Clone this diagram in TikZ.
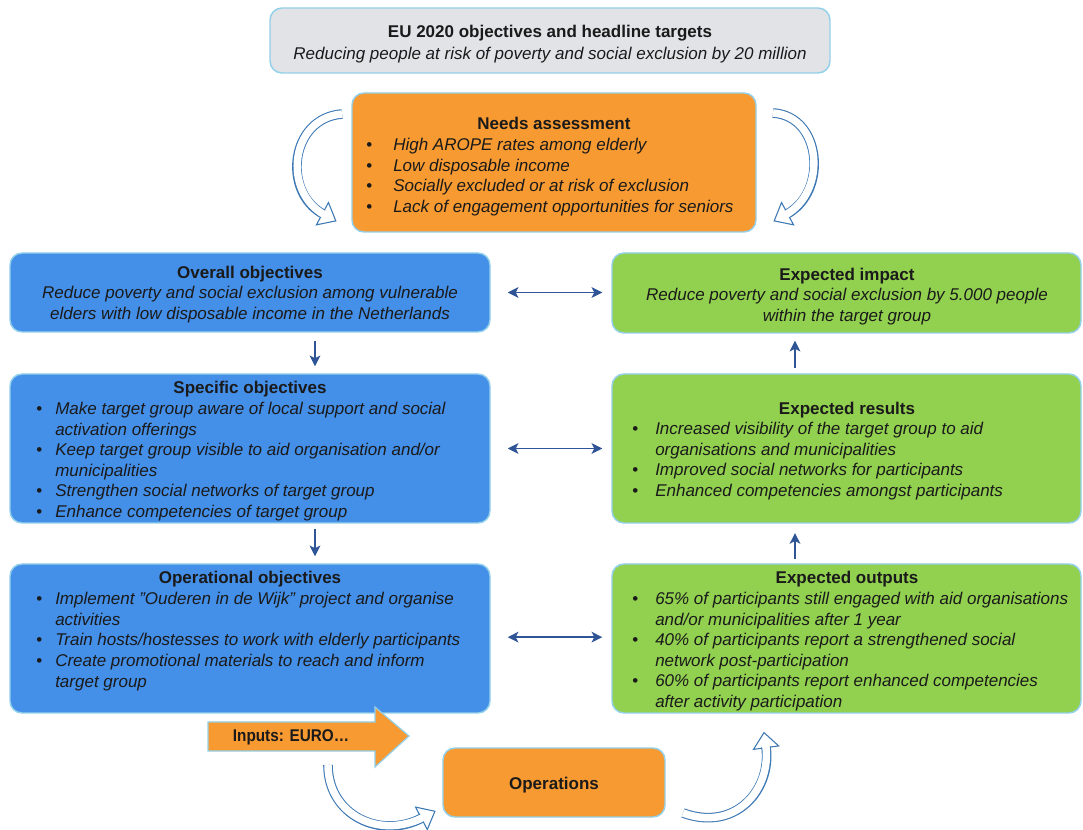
\documentclass[tikz,border=0pt]{standalone}
\usepackage{fontspec}
\setmainfont{Liberation Sans}
\usetikzlibrary{arrows.meta,decorations.markings,fit}

\definecolor{boxblue}{HTML}{448FE8}
\definecolor{boxgreen}{HTML}{92D050}
\definecolor{boxorange}{HTML}{F79A32}
\definecolor{boxgray}{HTML}{E1E3E6}
\definecolor{rimblue}{HTML}{93D0EA}
\definecolor{linknavy}{HTML}{2F5597}
\definecolor{curveblue}{HTML}{3C78B4}
\definecolor{ink}{HTML}{1A1A1A}

\newcommand{\bodyfont}{\fontsize{12.75pt}{15.4pt}\selectfont}
\newlength\itemhang
\newcommand{\bl}[1]{\makebox[\itemhang][l]{\textbullet}\textit{#1}}
\newcommand{\cl}[1]{\hspace*{\itemhang}\textit{#1}}

% hollow curved arrow: outlined shaft plus open head at the end of the path
\newcommand{\hollowcurve}[1]{%
  \path[decorate, decoration={markings, mark=at position 0.999 with
    {\draw[curveblue, line width=0.8pt, fill=white, line join=miter]
      (-0.4pt,-9.5pt) -- (11pt,0pt) -- (-0.4pt,9.5pt) -- cycle;}}] #1;
  \draw[curveblue, line width=7.2pt] #1;
  \draw[white, line width=5.6pt, shorten >=-1.5pt] #1;
}

\tikzset{
  box/.style={rounded corners=9pt, draw=rimblue, line width=1.1pt, inner sep=0pt},
  bluebox/.style={box, fill=boxblue},
  greenbox/.style={box, fill=boxgreen},
  orangebox/.style={box, fill=boxorange},
  graybox/.style={box, fill=boxgray},
  title/.style={anchor=base, font=\bodyfont\bfseries, text=ink, inner sep=0pt},
  % multi-line texts: the base anchor sits on the last line
  plain/.style={anchor=base, font=\bodyfont\itshape, text=ink, align=center, inner sep=0pt},
  blist/.style={anchor=base west, font=\bodyfont, text=ink, align=left, inner sep=0pt,
    /utils/exec={\global\itemhang=14.25pt}},
  nlist/.style={blist, /utils/exec={\global\itemhang=20.25pt}},
  glist/.style={blist, /utils/exec={\global\itemhang=17.25pt}},
  link/.style={linknavy, line width=1.2pt},
  both/.style={link, {Stealth[length=8pt,width=8pt,inset=2pt]}-{Stealth[length=8pt,width=8pt,inset=2pt]}},
  ahead/.style={link, -{Stealth[length=8pt,width=8pt,inset=2pt]}},
}

\begin{document}
\begin{tikzpicture}[x=0.75pt, y=-0.75pt]
\useasboundingbox (0,0) rectangle (1083,830);

% --- top: EU 2020 targets
\node[graybox, fit={(270,8) (830,73)}] (eu) {};
\node[title] (euT) at (550,38) {EU 2020 objectives and headline targets};
\node[plain] (euS) at (550,60) {Reducing people at risk of poverty and social exclusion by 20 million};

% --- needs assessment
\node[orangebox, fit={(352,93) (756,232)}] (needs) {};
\node[title] (needsT) at (554,130) {Needs assessment};
\node[nlist] (needsL) at (366,212.5) {\bl{High AROPE rates among elderly}\\
  \bl{Low disposable income}\\
  \bl{Socially excluded or at risk of exclusion}\\
  \bl{Lack of engagement opportunities for seniors}};

% --- left column: objectives
\node[bluebox, fit={(10,253) (490,332)}] (overall) {};
\node[title] (overallT) at (250,279) {Overall objectives};
\node[plain] (overallS) at (250,319.5) {Reduce poverty and social exclusion among vulnerable\\
  elders with low disposable income in the Netherlands};

\node[bluebox, fit={(10,374) (490,523)}] (specific) {};
\node[title] (specificT) at (250,394) {Specific objectives};
\node[blist] (specificL) at (36,517.5) {\bl{Make target group aware of local support and social}\\
  \cl{activation offerings}\\
  \bl{Keep target group visible to aid organisation and/or}\\
  \cl{municipalities}\\
  \bl{Strengthen social networks of target group}\\
  \bl{Enhance competencies of target group}};

\node[bluebox, fit={(10,564) (490,713)}] (operational) {};
\node[title] (operationalT) at (250,584) {Operational objectives};
\node[blist] (operationalL) at (36,687) {\bl{Implement ''Ouderen in de Wijk'' project and organise}\\
  \cl{activities}\\
  \bl{Train hosts/hostesses to work with elderly participants}\\
  \bl{Create promotional materials to reach and inform}\\
  \cl{target group}};

% --- right column: expectations
\node[greenbox, fit={(612,253) (1081,333)}] (impact) {};
\node[title] (impactT) at (847,281) {Expected impact};
\node[plain] (impactS) at (847,321.5) {Reduce poverty and social exclusion by 5.000 people\\
  within the target group};

\node[greenbox, fit={(612,374) (1081,523)}] (results) {};
\node[title] (resultsT) at (847,415) {Expected results};
\node[glist] (resultsL) at (632,496.5) {\bl{Increased visibility of the target group to aid}\\
  \cl{organisations and municipalities}\\
  \bl{Improved social networks for participants}\\
  \bl{Enhanced competencies amongst participants}};

\node[greenbox, fit={(612,564) (1081,713)}] (outputs) {};
\node[title] (outputsT) at (847,584) {Expected outputs};
\node[glist] (outputsL) at (632,707.5) {\bl{65\% of participants still engaged with aid organisations}\\
  \cl{and/or municipalities after 1 year}\\
  \bl{40\% of participants report a strengthened social}\\
  \cl{network post-participation}\\
  \bl{60\% of participants report enhanced competencies}\\
  \cl{after activity participation}};

% --- inputs and operations
\draw[fill=boxorange, draw=rimblue, line width=0.9pt]
  (208,722) -- (375,722) -- (375,707) -- (409,736) -- (375,767) -- (375,751) -- (208,751) -- cycle;
\node[title] (inputs) at (291,742) {\scalebox{0.9}[1]{Inputs: EURO\ldots}};

\node[orangebox, fit={(443,748) (665,817)}] (ops) {};
\node[title] (opsT) at (554,789) {Operations};

% --- links between the columns
\coordinate (lcol) at (315,0);
\coordinate (rcol) at (795,0);
\draw[both, shorten <=12.75pt, shorten >=6.75pt] (overall.east) -- (overall.east -| impact.west);
\draw[both, shorten <=12.75pt, shorten >=6.75pt] (specific.east) -- (specific.east -| results.west);
\draw[both, shorten <=12.75pt, shorten >=6.75pt] ([yshift=1pt]operational.east) -- ([yshift=1pt]operational.east -| outputs.west);
\draw[ahead, shorten <=6pt, shorten >=5.25pt] (overall.south -| lcol) -- (specific.north -| lcol);
\draw[ahead, shorten <=4pt, shorten >=5.25pt] (specific.south -| lcol) -- (operational.north -| lcol);
\draw[ahead, shorten <=4pt, shorten >=5.25pt] (results.north -| rcol) -- (impact.south -| rcol);
\draw[ahead, shorten <=3pt, shorten >=7pt] (outputs.north -| rcol) -- (results.south -| rcol);

% --- curved flow arrows
\hollowcurve{(342,114) .. controls (290,118) and (282,192) .. (323,214)}
\hollowcurve{(773,113) .. controls (822,116) and (828,192) .. (787,214)}
\hollowcurve{(328,765) .. controls (328,815) and (380,840) .. (422,818)}
\hollowcurve{(683,813) .. controls (735,832) and (772,790) .. (766,747)}
\end{tikzpicture}
\end{document}
